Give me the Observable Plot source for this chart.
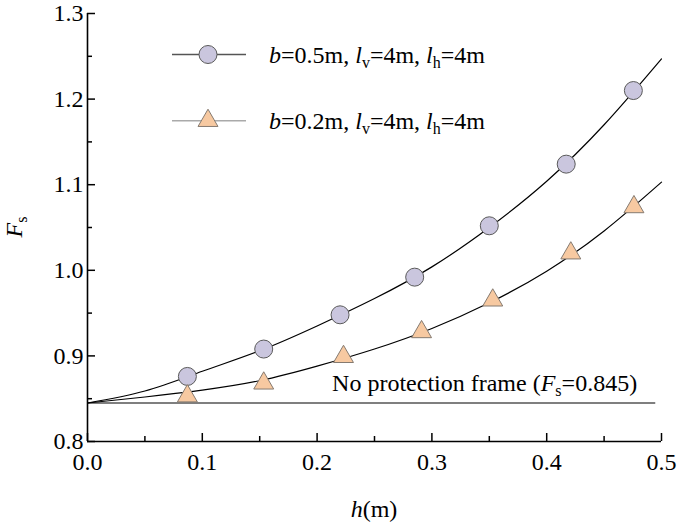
<!DOCTYPE html>
<html><head><meta charset="utf-8">
<script src="https://cdn.jsdelivr.net/npm/d3@7"></script>
<script src="https://cdn.jsdelivr.net/npm/@observablehq/plot@0.6"></script>
<style>body{margin:0;background:#fff} #chart{position:relative;width:685px;height:524px} #chart svg, #chart svg text{font-family:'Liberation Serif','Times New Roman',serif !important}</style>
</head><body><div id="chart"></div>
<script>
// Fitted curves
const curveH = [0, 0.05, 0.1, 0.15, 0.2, 0.25, 0.3, 0.35, 0.4, 0.45, 0.5];
const curveB05 = [0.845, 0.859, 0.882, 0.906, 0.935, 0.967, 1.004, 1.050, 1.104, 1.170, 1.247];
const curveB02 = [0.845, 0.852, 0.860, 0.871, 0.888, 0.908, 0.932, 0.962, 0.999, 1.046, 1.103];
// Computed points
const pointsB05H = [0.087, 0.1535, 0.220, 0.285, 0.350, 0.417, 0.4755];
const pointsB05Fs = [0.876, 0.908, 0.948, 0.992, 1.052, 1.124, 1.210];
const pointsB02H = [0.087, 0.1535, 0.223, 0.291, 0.353, 0.421, 0.476];
const pointsB02Fs = [0.853, 0.868, 0.899, 0.928, 0.965, 1.020, 1.074];
// Reference (no protection frame)
const noFrameFs = 0.845;
const noFrameSpan = [0, 0.495];
// Ticks
const xTicks = [0, 0.1, 0.2, 0.3, 0.4, 0.5];
const xMinor = [0.05, 0.15, 0.25, 0.35, 0.45];
const yTicks = [0.8, 0.9, 1.0, 1.1, 1.2, 1.3];
const yMinor = [0.85, 0.95, 1.05, 1.15, 1.25];
const legendLabels = [
  [["b", "i"], ["=0.5m, "], ["l", "i"], ["v", "sub"], ["=4m, "], ["l", "i"], ["h", "sub"], ["=4m"]],
  [["b", "i"], ["=0.2m, "], ["l", "i"], ["v", "sub"], ["=4m, "], ["l", "i"], ["h", "sub"], ["=4m"]]
];

const W = 685, H = 524, mL = 87, mR = 24, mT = 13, mB = 83;
const pw = W - mL - mR, ph = H - mT - mB;
const FS = 24;
const FONT = "'Liberation Serif','Times New Roman',serif";
const table = (xs, ys) => xs.map((x, i) => ({x, y: ys[i]}));
const circleFill = "#cac6de", circleStroke = "#5a5a5a";
const triFill = "#f7c9a1", triStroke = "#857a70";

const chart = Plot.plot({
  width: W, height: H,
  marginLeft: mL, marginRight: mR, marginTop: mT, marginBottom: mB,
  style: `font-family:'Liberation Serif','Times New Roman',serif;font-size:${FS}px;color:#000;background:#fff;`,
  x: {domain: [0, 0.5]},
  y: {domain: [0.8, 1.3]},
  marks: [
    Plot.ruleY([noFrameFs], {x1: noFrameSpan[0], x2: noFrameSpan[1], stroke: "#555", strokeWidth: 1.3}),
    Plot.line(table(curveH, curveB05), {x: "x", y: "y", curve: "natural", stroke: "#000", strokeWidth: 1.2}),
    Plot.line(table(curveH, curveB02), {x: "x", y: "y", curve: "natural", stroke: "#000", strokeWidth: 1.2}),
    Plot.dot(table(pointsB05H, pointsB05Fs), {x: "x", y: "y", symbol: "circle", r: 9, fill: circleFill, stroke: circleStroke, strokeWidth: 1}),
    Plot.dot(table(pointsB02H, pointsB02Fs), {x: "x", y: "y", symbol: "triangle", r: 7.4, fill: triFill, stroke: triStroke, strokeWidth: 1}),
    Plot.ruleX([0], {stroke: "#000", strokeWidth: 1.6}),
    Plot.ruleY([0.8], {stroke: "#000", strokeWidth: 1.6}),
    Plot.tickX(xTicks, {x: d => d, insetTop: ph - 8, stroke: "#000", strokeWidth: 1.5}),
    Plot.tickX(xMinor, {x: d => d, insetTop: ph - 5, stroke: "#000", strokeWidth: 1.5}),
    Plot.tickY(yTicks, {y: d => d, insetRight: pw - 8, stroke: "#000", strokeWidth: 1.5}),
    Plot.tickY(yMinor, {y: d => d, insetRight: pw - 5, stroke: "#000", strokeWidth: 1.5}),
    Plot.axisX({ticks: xTicks, tickSize: 0, tickPadding: 11, tickFormat: d3.format(".1f"), label: null, fontSize: FS}),
    Plot.axisY({ticks: yTicks, tickSize: 0, tickPadding: 4, tickFormat: d3.format(".1f"), label: null, fontSize: FS})
  ]
});
document.getElementById("chart").appendChild(chart);

const sx = chart.scale("x"), sy = chart.scale("y");
const X = d3.scaleLinear().domain(sx.domain).range(sx.range);
const Y = d3.scaleLinear().domain(sy.domain).range(sy.range);
const svg = d3.select(chart);

function addText(x, y, size) {
  return svg.append("text").attr("x", x).attr("y", y).attr("font-size", size)
    .attr("font-family", FONT).attr("fill", "#000").attr("text-anchor", "start");
}
function richText(g, parts, size) {
  const sub = Math.round(size * 0.68);
  let shifted = false;
  for (const [t, kind] of parts) {
    const ts = g.append("tspan").text(t);
    if (kind === "i") ts.attr("font-style", "italic");
    if (kind === "sub") { ts.attr("font-size", sub).attr("dy", 5); shifted = true; }
    else if (shifted) { ts.attr("dy", -5); shifted = false; }
  }
}

// Legend
const legendX0 = mL + 85, legendX1 = mL + 159, legendMark = mL + 121, legendText = mL + 182;
const legendRows = [{y: 54.5, line: "#555", sym: d3.symbolCircle, size: Math.PI * 81, fill: circleFill, stroke: circleStroke},
                    {y: 120.7, line: "#aaa", sym: d3.symbolTriangle, size: Math.PI * 7.4 * 7.4, fill: triFill, stroke: triStroke}];
legendRows.forEach((r, i) => {
  svg.append("line").attr("x1", legendX0).attr("x2", legendX1).attr("y1", r.y).attr("y2", r.y)
    .attr("stroke", r.line).attr("stroke-width", 1.5);
  svg.append("path").attr("d", d3.symbol(r.sym, r.size)()).attr("transform", `translate(${legendMark},${r.y})`)
    .attr("fill", r.fill).attr("stroke", r.stroke).attr("stroke-width", 1);
  richText(addText(legendText, r.y + 8.5, FS), legendLabels[i], FS);
});

// Reference label
richText(addText(X(0.2135), Y(noFrameFs) - 11, FS), [["No protection frame ("], ["F", "i"], ["s", "sub"], ["=0.845)"]], FS);

// Axis titles
const xt = addText((X(0) + X(0.5)) / 2, 517, FS).attr("text-anchor", "middle");
richText(xt, [["h", "i"], ["(m)"]], FS);
const yt = addText(0, 0, FS).attr("transform", `translate(22,${(Y(0.8) + Y(1.3)) / 2}) rotate(-90)`).attr("text-anchor", "middle");
richText(yt, [["F", "i"], ["s", "sub"]], FS);
</script>
</body></html>
